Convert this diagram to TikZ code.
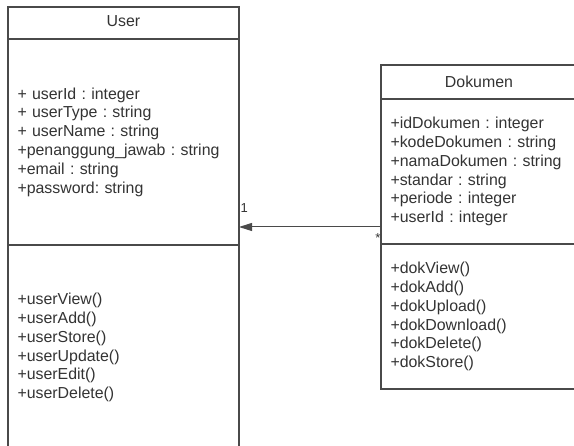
\documentclass[tikz,border=0pt]{standalone}
\usepackage{fontspec}
\setmainfont{Liberation Sans}
\frenchspacing
\usetikzlibrary{arrows.meta,positioning}
\definecolor{umlline}{HTML}{4A4A4A}
\definecolor{umltext}{HTML}{333333}
\tikzset{
    %Define standard arrow tip
    >={Triangle[length=13pt,width=8pt]},
    % Define association style
    assoc/.style={
           ->,
           draw=umlline,
           line width=1pt,}
}

\begin{document}
\begin{tikzpicture}[x=1pt,y=-1pt,
umlbox/.style={rectangle, draw=umlline, line width=1.3pt, outer sep=0pt, text=umltext, font=\fontsize{15.9}{18.8}\selectfont},
userpart/.style={umlbox, minimum width=231pt, inner xsep=9.5pt, text width=212pt, align=left},
dokpart/.style={umlbox, minimum width=196pt, inner xsep=9.5pt, text width=177pt, align=left},
mult/.style={text=umltext, font=\fontsize{13}{13}\selectfont, inner sep=1pt},
]
%Frame
\useasboundingbox (0,0) rectangle (574,446);
\clip (0,0) rectangle (574,446);

%Nodes
\node[userpart, align=center, minimum height=32pt, text depth=3pt](usertitle) at (123.5,23){User};
\node[userpart, minimum height=206pt, below=0pt of usertitle](userattr){+ userId : integer\\+ userType : string\\+ userName : string\\+penanggung\_jawab : string\\+email : string\\+password: string};
\node[userpart, minimum height=205pt, below=0pt of userattr](usermeth){+userView()\\+userAdd()\\+userStore()\\+userUpdate()\\+userEdit()\\+userDelete()};

\node[dokpart, align=center, minimum height=34pt](doktitle) at (479,82){Dokumen};
\node[dokpart, minimum height=145pt, below=0pt of doktitle](dokattr){+idDokumen : integer\\+kodeDokumen : string\\+namaDokumen : string\\+standar : string\\+periode : integer\\+userId : integer};
\node[dokpart, minimum height=145pt, below=0pt of dokattr](dokmeth){+dokView()\\+dokAdd()\\+dokUpload()\\+dokDownload()\\+dokDelete()\\+dokStore()};

\coordinate[yshift=17pt](assocstart) at (dokattr.south west);

\draw[assoc] (assocstart) -- (assocstart -| userattr.east)
    node[mult, pos=1, anchor=south west, yshift=13pt]{1}
    node[mult, pos=0, anchor=north east, yshift=-5pt, xshift=1pt]{*};

\end{tikzpicture}
\end{document}
